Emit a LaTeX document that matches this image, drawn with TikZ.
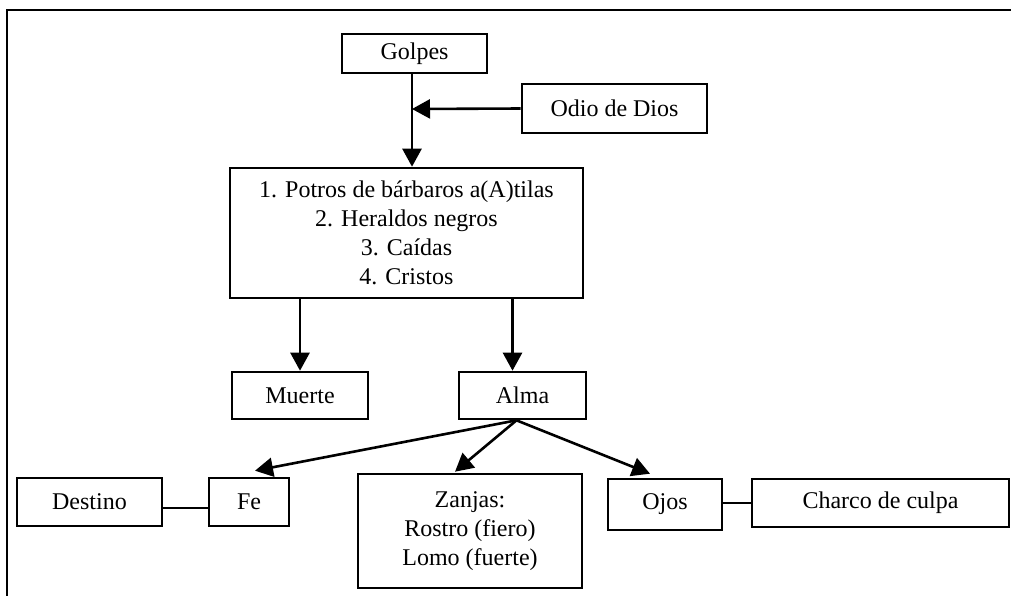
\documentclass[tikz,border=0pt]{standalone}
\usepackage{fontspec}
\setmainfont{Liberation Serif}
\usetikzlibrary{arrows.meta,calc}
\begin{document}
\begin{tikzpicture}[x=1pt,y=-1pt,
  box/.style={draw,line width=2.6pt,rectangle,inner sep=0pt,align=center,
    font=\fontsize{24}{29}\selectfont},
  arr/.style={line width=2.6pt,-{Triangle[length=18pt,width=19pt]}},
  link/.style={line width=2.6pt}]
\useasboundingbox (0,0) rectangle (1011,595);
\draw[line width=2.8pt] (7,600) -- (7,10) -- (1016,10);
\node[box,minimum width=145pt,minimum height=39pt] (golpes) at (414.5,53.5) {Golpes};
\node[box,minimum width=185pt,minimum height=49pt] (odio) at (614.5,108.5) {Odio de Dios};
\node[box,minimum width=353pt,minimum height=130pt] (main) at (406.5,233)
  {1. Potros de bárbaros a(A)tilas\\2. Heraldos negros\\3. Caídas\\4. Cristos};
\node[box,minimum width=136pt,minimum height=47pt] (muerte) at (300,395.5) {Muerte};
\node[box,minimum width=127pt,minimum height=47pt] (alma) at (522.5,395.5) {Alma};
\node[box,minimum width=145pt,minimum height=48pt] (destino) at (89.5,502) {Destino};
\node[box,minimum width=80pt,minimum height=48pt] (fe) at (249,502) {Fe};
\node[box,minimum width=224pt,minimum height=114pt] (zanjas) at (470,531)
  {Zanjas:\\Rostro (fiero)\\Lomo (fuerte)};
\node[box,minimum width=114pt,minimum height=51pt] (ojos) at (665,504.5) {Ojos};
\node[box,minimum width=257pt,minimum height=48pt] (charco) at (880.5,503) {Charco de culpa};
\coordinate (j) at (412,109);
\draw[arr] (golpes.south -| j) -- (main.north -| j);
\draw[arr] (odio.west) -- (j);
\draw[arr] (main.south -| muerte.north) -- (muerte.north);
\draw[arr] ($(main.south -| alma.north)+(-10,0)$) -- ($(alma.north)+(-10,0)$);
\draw[arr] ($(alma.south)+(-6,0)$) -- ($(fe.north)+(6,-6)$);
\draw[arr] ($(alma.south)+(-6,0)$) -- ($(zanjas.north)+(-15,-1)$);
\draw[arr] ($(alma.south)+(-6,0)$) -- ($(ojos.north)+(-15,-4)$);
\draw[link] ($(destino.east)+(0,6)$) -- ($(fe.west)+(0,6)$);
\draw[link] (ojos.east |- charco.west) -- (charco.west);
\end{tikzpicture}
\end{document}
